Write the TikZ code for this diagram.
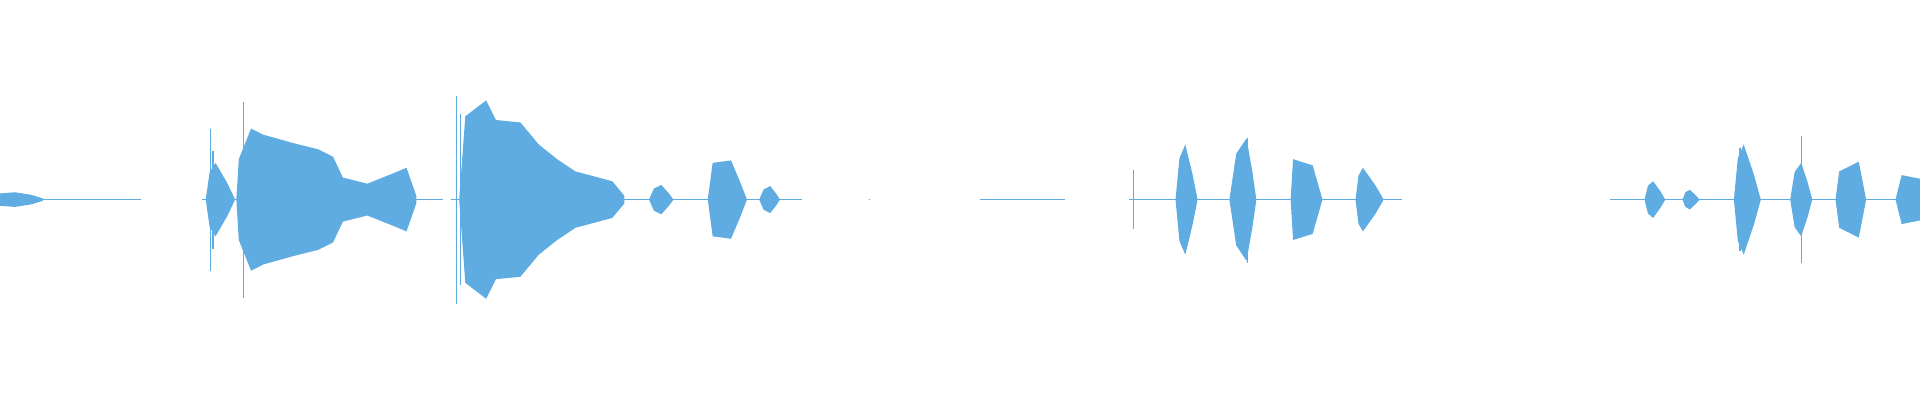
\documentclass[tikz,border=0pt]{standalone}
\definecolor{wave}{RGB}{94,172,225}
\newcommand{\burst}[4]{\fill[wave] (#1, 163) -- (#1*0.6+#3*0.4, 163-0.75*#4) -- (#3, 163-#4) -- (#3*0.4+#2*0.6, 163-0.45*#4) -- (#2, 163) -- (#3*0.4+#2*0.6, 163+0.45*#4) -- (#3, 163+#4) -- (#1*0.6+#3*0.4, 163+0.75*#4) -- cycle;}
\newcommand{\spike}[3]{\draw[wave, line width=1.2pt] (#1, 163-#2) -- (#1, 163+#3);}
\begin{document}
\begin{tikzpicture}[x = 1.2245pt, y = -1.2245pt]
	\useasboundingbox (0, 0) rectangle (1568, 326.7);
	\tikzset{base/.style = {wave, line width = 0.8pt}}
%%%%%%%%%%% baseline pieces
	\draw[base] (0, 163) -- (115, 163);
	\draw[base] (165, 163) -- (362, 163);
	\draw[base] (368, 163) -- (655, 163);
	\fill[wave] (710, 163) circle (0.6);
	\draw[base] (800, 163) -- (870, 163);
	\draw[base] (922, 163) -- (1145, 163);
	\draw[base] (1315, 163) -- (1568, 163);
%%%%%%%%%%% first phrase
	\fill[wave] (0, 158) -- (12, 157) -- (25, 159) -- (35, 162) -- (35, 164) -- (25, 167) -- (12, 169) -- (0, 168) -- cycle;
	\spike{172}{58}{58}
	\spike{174}{40}{40}
	\burst{168}{192}{176}{30}
	\spike{199}{80}{80}
	\fill[wave] (193, 163) -- (195, 130) -- (205, 105) -- (215, 110) -- (240, 117) -- (260, 122) -- (272, 128) -- (280, 145) -- (300, 150) -- (320, 142) -- (332, 137) -- (340, 160) -- (340, 166) -- (332, 189) -- (320, 184) -- (300, 176) -- (280, 181) -- (272, 198) -- (260, 204) -- (240, 209) -- (215, 216) -- (205, 221) -- (195, 196) -- cycle;
%%%%%%%%%%% second phrase
	\spike{373}{85}{85}
	\spike{376}{70}{70}
	\fill[wave] (375, 163) -- (380, 95) -- (397, 82) -- (405, 98) -- (425, 100) -- (440, 118) -- (455, 130) -- (470, 140) -- (500, 148) -- (510, 160) -- (510, 166) -- (500, 178) -- (470, 186) -- (455, 196) -- (440, 208) -- (425, 226) -- (405, 228) -- (397, 244) -- (380, 231) -- cycle;
	\burst{530}{550}{540}{12}
	\fill[wave] (578, 163) -- (582, 133) -- (597, 131) -- (605, 150) -- (610, 163) -- (605, 176) -- (597, 195) -- (582, 193) -- cycle;
	\burst{620}{637}{629}{11}
%%%%%%%%%%% third phrase
	\spike{926}{24}{24}
	\burst{960}{978}{968}{45}
	\burst{1004}{1026}{1018}{50}
	\spike{1019}{50}{52}
	\fill[wave] (1054, 163) -- (1056, 130) -- (1072, 135) -- (1080, 163) -- (1072, 191) -- (1056, 196) -- cycle;
	\burst{1107}{1130}{1113}{26}
%%%%%%%%%%% fourth phrase
	\burst{1343}{1360}{1350}{15}
	\burst{1374}{1388}{1380}{8}
	\burst{1416}{1438}{1424}{45}
	\spike{1421}{42}{42}
	\spike{1471}{52}{52}
	\burst{1462}{1480}{1471}{30}
	\fill[wave] (1499, 163) -- (1502, 140) -- (1518, 132) -- (1524, 163) -- (1518, 194) -- (1502, 186) -- cycle;
	\fill[wave] (1548, 163) -- (1553, 143) -- (1568, 146) -- (1568, 180) -- (1553, 183) -- cycle;
\end{tikzpicture}
\end{document}
